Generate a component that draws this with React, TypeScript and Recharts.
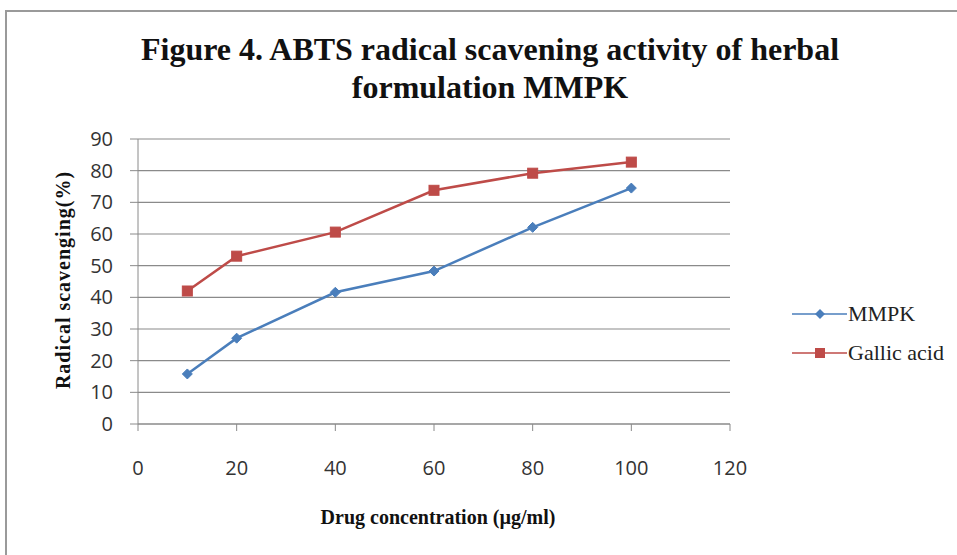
import { LineChart, Line, XAxis, YAxis, CartesianGrid } from 'recharts'

const CONC = [10, 20, 40, 60, 80, 100]
const MMPK = [15.8, 27.1, 41.6, 48.3, 62.1, 74.5]
const GALLIC = [42, 53, 60.6, 73.8, 79.2, 82.7]
const X_TICKS = [0, 20, 40, 60, 80, 100, 120]
const Y_TICKS = [0, 10, 20, 30, 40, 50, 60, 70, 80, 90]

const BLUE = '#4a7ebb'
const RED = '#be4b48'
const GRID = '#8a8a8a'

const data = CONC.map((c, i) => ({ conc: c, mmpk: MMPK[i], gallic: GALLIC[i] }))

const serif = '"Liberation Serif", "DejaVu Serif", serif'
const sans = '"Open Sans", "Liberation Sans", sans-serif'

function Diamond(props: any) {
  const { cx, cy, index } = props
  const r = 5
  return (
    <path
      key={'d' + index}
      d={`M${cx},${cy - r}L${cx + r},${cy}L${cx},${cy + r}L${cx - r},${cy}Z`}
      fill={BLUE}
      stroke={BLUE}
    />
  )
}

function Square(props: any) {
  const { cx, cy, index } = props
  const s = 10
  return <rect key={'s' + index} x={cx - s / 2} y={cy - s / 2} width={s} height={s} fill={RED} stroke={RED} />
}

export default function App() {
  return (
    <div style={{ position: 'absolute', left: 0, top: 0, width: 957, height: 555, overflow: 'hidden', background: '#fff' }}>
      <div
        style={{
          position: 'absolute',
          left: 5,
          top: 10,
          width: 980,
          height: 560,
          border: '2px solid #9a9a9a',
          boxSizing: 'border-box',
        }}
      />
      <div
        style={{
          position: 'absolute',
          left: 0,
          top: 30,
          width: 980,
          textAlign: 'center',
          fontFamily: serif,
          fontWeight: 'bold',
          fontSize: 32,
          lineHeight: '38px',
          color: '#111',
        }}
      >
        Figure 4. ABTS radical scavening activity of herbal
        <br />
        formulation MMPK
      </div>
      <LineChart
        width={957}
        height={555}
        data={data}
        margin={{ top: 139, right: 227, bottom: 71, left: 0 }}
        style={{ position: 'absolute', left: 0, top: 0 }}
      >
        <CartesianGrid vertical={false} stroke={GRID} strokeWidth={1.2} />
        <XAxis
          dataKey="conc"
          type="number"
          domain={[0, 120]}
          ticks={X_TICKS}
          height={60}
          stroke={GRID}
          tickSize={7}
          tickMargin={30}
          tick={{ fontFamily: sans, fontSize: 20, fill: '#333' }}
        />
        <YAxis
          type="number"
          domain={[0, 90]}
          ticks={Y_TICKS}
          width={138}
          stroke={GRID}
          tickSize={8}
          tickMargin={17}
          tick={{ fontFamily: sans, fontSize: 20, fill: '#333' }}
        />
        <Line
          dataKey="mmpk"
          stroke={BLUE}
          strokeWidth={2.5}
          dot={Diamond}
          activeDot={false}
          isAnimationActive={false}
        />
        <Line
          dataKey="gallic"
          stroke={RED}
          strokeWidth={2.5}
          dot={Square}
          activeDot={false}
          isAnimationActive={false}
        />
      </LineChart>
      <div
        style={{
          position: 'absolute',
          left: 63,
          top: 280,
          transform: 'translate(-50%, -50%) rotate(-90deg)',
          whiteSpace: 'nowrap',
          fontFamily: serif,
          fontWeight: 'bold',
          fontSize: 20,
          letterSpacing: 1,
          color: '#111',
        }}
      >
        Radical scavenging(%)
      </div>
      <div
        style={{
          position: 'absolute',
          left: 438,
          top: 517,
          transform: 'translate(-50%, -50%)',
          whiteSpace: 'nowrap',
          fontFamily: serif,
          fontWeight: 'bold',
          fontSize: 20,
          color: '#111',
        }}
      >
        Drug concentration (µg/ml)
      </div>
      <svg style={{ position: 'absolute', left: 790, top: 290 }} width={167} height={90}>
        <line x1={2} y1={24} x2={57} y2={24} stroke={BLUE} strokeWidth={1.5} />
        <path d="M30,19L35,24L30,29L25,24Z" fill={BLUE} />
        <text x={58} y={31} fontFamily={serif} fontSize={22} fill="#222">
          MMPK
        </text>
        <line x1={2} y1={63} x2={57} y2={63} stroke={RED} strokeWidth={1.5} />
        <rect x={25} y={58} width={10} height={10} fill={RED} />
        <text x={58} y={70} fontFamily={serif} fontSize={22} fill="#222">
          Gallic acid
        </text>
      </svg>
    </div>
  )
}
